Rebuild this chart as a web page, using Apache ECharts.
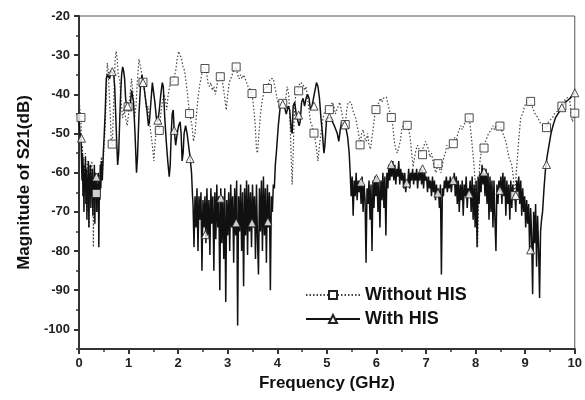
<!DOCTYPE html>
<html>
<head>
<meta charset="utf-8">
<script src="https://cdn.jsdelivr.net/npm/echarts@6/dist/echarts.min.js"></script>
<style>html,body{margin:0;padding:0;background:#fff}#c{width:585px;height:400px}</style>
</head>
<body>
<div id="c"></div>
<script>
// ---- Data (frequency GHz, magnitude dB) ----
const seriesNames = ['Without HIS', 'With HIS'];
const xTickLabels = [0, 1, 2, 3, 4, 5, 6, 7, 8, 9, 10];
const yTickLabels = [-100, -90, -80, -70, -60, -50, -40, -30, -20];
const yMinorTicks = [-105, -95, -85, -75, -65, -55, -45, -35, -25];

const withoutHIS = [
[0.00,-41],[0.02,-44],[0.04,-46],[0.05,-52],[0.06,-58],[0.07,-53],[0.08,-62],[0.09,-56],[0.10,-66],[0.11,-58],[0.12,-63],[0.13,-55],[0.14,-68],[0.15,-60],[0.16,-65],[0.17,-57],[0.18,-70],[0.19,-59],[0.20,-74],[0.21,-62],[0.22,-58],[0.23,-66],[0.24,-60],[0.25,-64],[0.26,-57],[0.27,-68],[0.28,-62],[0.29,-79],[0.30,-64],[0.31,-60],[0.32,-70],[0.33,-61],[0.34,-66],[0.35,-62],[0.36,-70],[0.37,-63],[0.38,-67],[0.39,-60],[0.40,-72],[0.41,-62],[0.42,-65],[0.43,-58],[0.44,-62],[0.45,-56],[0.47,-60],[0.49,-57],[0.51,-52],[0.53,-48],[0.55,-40],[0.57,-32],[0.59,-34],[0.61,-40],[0.63,-45],[0.65,-52],[0.67,-53],[0.69,-46],[0.71,-38],[0.73,-31],[0.75,-29],[0.77,-31],[0.79,-35],[0.82,-36],[0.85,-42],[0.88,-46],[0.91,-44],[0.94,-46],[0.97,-48],[1.00,-45],[1.03,-40],[1.06,-36],[1.09,-40],[1.12,-46],[1.15,-43],[1.18,-36],[1.21,-31],[1.24,-33],[1.27,-35],[1.30,-37],[1.33,-40],[1.36,-44],[1.39,-43],[1.42,-47],[1.45,-50],[1.48,-53],[1.51,-57],[1.53,-53],[1.56,-49],[1.59,-48],[1.62,-49],[1.65,-45],[1.68,-42],[1.71,-40],[1.74,-41],[1.77,-44],[1.80,-40],[1.83,-38],[1.86,-36],[1.89,-37],[1.92,-37],[1.95,-34],[1.98,-31],[2.01,-29],[2.04,-29.5],[2.07,-31],[2.10,-33],[2.13,-34],[2.16,-37],[2.19,-40],[2.22,-44],[2.25,-46],[2.28,-48],[2.31,-52],[2.34,-50],[2.37,-45],[2.40,-41],[2.43,-38],[2.46,-36],[2.49,-34],[2.52,-33],[2.54,-33.4],[2.57,-34],[2.60,-37],[2.63,-38],[2.66,-37],[2.69,-39],[2.72,-38],[2.75,-40],[2.78,-38],[2.81,-36],[2.85,-35.5],[2.88,-36],[2.91,-38],[2.94,-41],[2.97,-44],[3.00,-40],[3.03,-37],[3.06,-36],[3.09,-35],[3.12,-34],[3.17,-33],[3.20,-35],[3.23,-36],[3.26,-35],[3.29,-36],[3.32,-35],[3.35,-35],[3.38,-37],[3.41,-38],[3.44,-38],[3.47,-39],[3.49,-39.8],[3.52,-43],[3.55,-47],[3.58,-54],[3.60,-55],[3.63,-50],[3.66,-45],[3.69,-42],[3.72,-40],[3.75,-38],[3.78,-38],[3.80,-38.5],[3.83,-37],[3.86,-36],[3.89,-36],[3.92,-36],[3.95,-38],[3.98,-40],[4.01,-42],[4.04,-42],[4.07,-43],[4.11,-42.3],[4.14,-43],[4.17,-41],[4.20,-38],[4.23,-40],[4.26,-48],[4.28,-56],[4.30,-63],[4.32,-55],[4.34,-46],[4.37,-40],[4.40,-39.3],[4.43,-39],[4.46,-37],[4.49,-37],[4.52,-37.3],[4.55,-39],[4.58,-38],[4.61,-41],[4.64,-44],[4.67,-47],[4.70,-48],[4.74,-50],[4.77,-52],[4.80,-55],[4.82,-57],[4.85,-53],[4.88,-50],[4.91,-47],[4.94,-45],[4.97,-44],[5.00,-44],[5.05,-43.9],[5.08,-43],[5.11,-42],[5.14,-43],[5.17,-45],[5.20,-44],[5.23,-43],[5.26,-42],[5.29,-44],[5.32,-46],[5.37,-47.7],[5.40,-44],[5.43,-42],[5.46,-41.6],[5.49,-42],[5.52,-44],[5.55,-45],[5.58,-46],[5.61,-48],[5.64,-50],[5.67,-52.9],[5.70,-50],[5.73,-49],[5.76,-51],[5.79,-52],[5.82,-50],[5.85,-53],[5.88,-54],[5.91,-51],[5.94,-48],[5.97,-45],[5.99,-43.9],[6.02,-43],[6.05,-42],[6.08,-41],[6.11,-42],[6.14,-41],[6.17,-41],[6.20,-40.7],[6.23,-41],[6.26,-44],[6.30,-45.9],[6.33,-48],[6.36,-52],[6.39,-54],[6.42,-55],[6.45,-55.5],[6.48,-52],[6.51,-49],[6.54,-48],[6.57,-47],[6.60,-48],[6.62,-47.9],[6.65,-49],[6.68,-51],[6.71,-55],[6.74,-58.5],[6.77,-56],[6.80,-54],[6.83,-53],[6.86,-54],[6.90,-55],[6.93,-55.4],[6.96,-53],[6.99,-52],[7.02,-52],[7.05,-54],[7.08,-56],[7.11,-55],[7.14,-57],[7.17,-59],[7.20,-60],[7.24,-57.7],[7.27,-58],[7.30,-60],[7.33,-58],[7.36,-56],[7.39,-55],[7.42,-53],[7.45,-54],[7.48,-54],[7.51,-53],[7.55,-52.6],[7.58,-51],[7.61,-52],[7.64,-50],[7.67,-49],[7.70,-48],[7.73,-49],[7.76,-48],[7.79,-47],[7.82,-46],[7.87,-46],[7.90,-49],[7.93,-53],[7.96,-57],[7.99,-62],[8.02,-70],[8.04,-79],[8.06,-66],[8.08,-58],[8.11,-55],[8.14,-54],[8.17,-53.7],[8.20,-52],[8.23,-51],[8.26,-50],[8.29,-50.5],[8.32,-49],[8.35,-48],[8.38,-49],[8.41,-48],[8.44,-48],[8.49,-48.1],[8.52,-49],[8.55,-50],[8.58,-51],[8.61,-52],[8.64,-54],[8.67,-56],[8.70,-57],[8.73,-58],[8.76,-61],[8.79,-65.8],[8.82,-60],[8.85,-55],[8.88,-50],[8.91,-46],[8.95,-44.9],[8.99,-43],[9.03,-42],[9.07,-41],[9.11,-41.8],[9.14,-43],[9.17,-44],[9.20,-45],[9.23,-45],[9.26,-46],[9.29,-47],[9.32,-47],[9.35,-48],[9.39,-48],[9.43,-48.5],[9.47,-47],[9.51,-47],[9.55,-46],[9.59,-45],[9.63,-45],[9.67,-44],[9.71,-43],[9.74,-43],[9.78,-42],[9.82,-41],[9.86,-40.5],[9.89,-40.7],[9.92,-44],[9.95,-47],[9.98,-46],[10.0,-44.8]
];

const withHIS = [
[0.00,-46],[0.02,-50],[0.04,-51],[0.05,-56],[0.06,-62],[0.07,-55],[0.08,-66],[0.09,-58],[0.10,-70],[0.11,-60],[0.12,-64],[0.13,-56],[0.14,-68],[0.15,-59],[0.16,-72],[0.17,-61],[0.18,-66],[0.19,-57],[0.20,-74],[0.21,-60],[0.22,-63],[0.23,-58],[0.24,-69],[0.25,-61],[0.26,-65],[0.27,-59],[0.28,-71],[0.29,-62],[0.30,-67],[0.31,-58],[0.32,-73],[0.33,-60],[0.34,-66],[0.35,-61],[0.36,-70],[0.37,-63],[0.38,-68],[0.39,-60],[0.40,-79],[0.41,-62],[0.42,-67],[0.43,-58],[0.44,-64],[0.45,-57],[0.47,-62],[0.49,-55],[0.51,-50],[0.53,-44],[0.55,-36],[0.57,-35],[0.60,-35],[0.62,-36],[0.64,-34],[0.67,-34],[0.70,-35],[0.72,-38],[0.74,-45],[0.76,-52],[0.78,-58],[0.80,-55],[0.82,-47],[0.84,-40],[0.86,-35],[0.88,-33],[0.90,-34],[0.92,-36],[0.94,-41],[0.96,-43],[0.98,-43],[1.00,-43],[1.02,-43],[1.04,-42],[1.06,-39],[1.08,-39],[1.10,-42],[1.13,-50],[1.16,-60],[1.18,-56],[1.21,-45],[1.24,-38],[1.27,-35],[1.29,-37],[1.31,-38],[1.34,-41],[1.37,-44],[1.40,-48],[1.42,-47],[1.45,-42],[1.48,-37],[1.50,-37],[1.53,-42],[1.56,-46],[1.59,-47],[1.62,-44],[1.65,-40],[1.68,-37],[1.70,-38],[1.73,-46],[1.76,-52],[1.79,-57],[1.82,-61],[1.84,-58],[1.86,-50],[1.88,-45],[1.90,-44],[1.92,-49],[1.95,-53],[1.98,-50],[2.01,-48],[2.04,-47],[2.06,-50],[2.08,-57],[2.10,-55],[2.12,-50],[2.15,-48],[2.18,-50],[2.21,-53],[2.24,-56],[2.27,-60],[2.29,-66],
[2.30,-68],[2.32,-79],[2.34,-66],[2.36,-74],[2.38,-64],[2.40,-80],[2.42,-66],[2.44,-72],[2.46,-65],[2.48,-85],[2.50,-67],[2.52,-74],[2.54,-66],[2.56,-78],[2.58,-64],[2.60,-76],[2.62,-67],[2.64,-81],[2.66,-64],[2.68,-73],[2.70,-66],[2.72,-85],[2.74,-65],[2.76,-77],[2.78,-63],[2.80,-74],[2.82,-66],[2.84,-90],[2.86,-64],[2.88,-78],[2.90,-66],[2.92,-82],[2.94,-64],[2.96,-93],[2.98,-67],[3.00,-76],[3.02,-65],[3.04,-80],[3.06,-63],[3.08,-74],[3.10,-66],[3.12,-83],[3.14,-64],[3.16,-76],[3.18,-62],[3.20,-99],[3.22,-66],[3.24,-75],[3.26,-63],[3.28,-80],[3.30,-65],[3.32,-89],[3.34,-64],[3.36,-76],[3.38,-62],[3.40,-81],[3.42,-63],[3.44,-75],[3.46,-65],[3.48,-79],[3.50,-63],[3.52,-74],[3.54,-66],[3.56,-82],[3.58,-63],[3.60,-77],[3.62,-86],[3.64,-64],[3.66,-75],[3.68,-62],[3.70,-80],[3.72,-61],[3.74,-76],[3.76,-64],[3.78,-83],[3.80,-63],[3.82,-74],[3.84,-65],[3.86,-90],[3.88,-66],[3.90,-70],[3.92,-63],[3.94,-64],[3.96,-58],[3.98,-55],
[4.02,-48],[4.06,-43],[4.10,-42],[4.14,-43],[4.18,-45],[4.22,-43],[4.25,-44],[4.28,-49],[4.30,-50],[4.32,-43],[4.35,-42],[4.38,-45],[4.41,-45],[4.44,-48],[4.46,-47],[4.49,-42],[4.52,-41],[4.55,-43],[4.58,-41],[4.61,-40],[4.64,-41],[4.67,-44],[4.70,-43],[4.73,-43],[4.76,-39],[4.79,-37],[4.82,-38],[4.85,-41],[4.88,-46],[4.91,-50],[4.94,-55],[4.96,-53],[4.99,-47],[5.02,-46],[5.05,-46],[5.08,-46],[5.11,-47],[5.15,-48],[5.18,-48],[5.21,-50],[5.24,-52],[5.27,-49],[5.30,-47],[5.33,-47],[5.36,-48],[5.39,-49],[5.42,-51],[5.45,-55],[5.47,-60],
[5.49,-66],[5.51,-61],[5.53,-71],[5.55,-62],[5.57,-66],[5.59,-60],[5.61,-67],[5.63,-62],[5.65,-65],[5.67,-62],[5.69,-68],[5.71,-61],[5.73,-70],[5.75,-63],[5.77,-67],[5.79,-83],[5.81,-64],[5.83,-68],[5.85,-62],[5.87,-72],[5.89,-63],[5.91,-80],[5.93,-62],[5.95,-69],[5.97,-61],[5.99,-66],[6.01,-61],[6.03,-70],[6.05,-62],[6.07,-74],[6.09,-62],[6.11,-67],[6.13,-60],[6.15,-69],[6.17,-61],[6.19,-76],[6.21,-60],[6.23,-64],[6.25,-58],[6.27,-62],[6.29,-58],[6.31,-61],[6.33,-57],[6.35,-62],[6.37,-58],[6.39,-63],[6.41,-59],[6.43,-61],[6.45,-57],[6.47,-63],[6.49,-59],[6.51,-62],[6.53,-60],[6.55,-64],[6.57,-60],[6.59,-65],[6.61,-62],[6.63,-63],[6.65,-59],[6.67,-64],[6.69,-60],[6.71,-62],[6.73,-59],[6.75,-63],[6.77,-60],[6.79,-62],[6.81,-59],[6.83,-64],[6.85,-60],[6.87,-62],[6.89,-59],[6.91,-63],[6.93,-59],[6.95,-64],[6.97,-60],[6.99,-62],[7.01,-61],[7.03,-65],[7.05,-61],[7.07,-64],[7.09,-62],[7.11,-66],[7.13,-61],[7.15,-65],[7.17,-62],[7.19,-67],[7.21,-63],[7.23,-66],[7.25,-64],[7.27,-69],[7.29,-63],[7.31,-86],[7.33,-64],[7.35,-66],[7.37,-62],[7.39,-64],[7.41,-61],[7.43,-65],[7.45,-62],[7.47,-64],[7.49,-61],[7.51,-65],[7.53,-62],[7.55,-63],[7.57,-60],[7.59,-66],[7.61,-61],[7.63,-68],[7.65,-62],[7.67,-70],[7.69,-63],[7.71,-67],[7.73,-62],[7.75,-71],[7.77,-63],[7.79,-66],[7.81,-61],[7.83,-69],[7.85,-64],[7.87,-66],[7.89,-62],[7.91,-70],[7.93,-61],[7.95,-72],[7.97,-63],[7.99,-74],[8.01,-62],[8.03,-79],[8.05,-61],[8.07,-68],[8.09,-60],[8.11,-65],[8.13,-58],[8.15,-63],[8.17,-60],[8.19,-66],[8.21,-59],[8.23,-68],[8.25,-60],[8.27,-72],[8.29,-61],[8.31,-70],[8.33,-62],[8.35,-74],[8.37,-62],[8.39,-72],[8.41,-80],[8.43,-63],[8.45,-68],[8.47,-62],[8.49,-65],[8.51,-61],[8.53,-68],[8.55,-60],[8.57,-66],[8.59,-61],[8.61,-71],[8.63,-62],[8.65,-68],[8.67,-63],[8.69,-72],[8.71,-62],[8.73,-69],[8.75,-63],[8.77,-67],[8.79,-65],[8.81,-70],[8.83,-62],[8.85,-66],[8.87,-61],[8.89,-68],[8.91,-62],[8.93,-71],[8.95,-64],[8.97,-70],[8.99,-66],[9.01,-74],[9.03,-67],[9.05,-73],[9.07,-68],[9.09,-80],[9.11,-69],[9.13,-76],[9.15,-91],[9.17,-70],[9.19,-78],[9.21,-68],[9.23,-84],[9.25,-71],[9.27,-79],[9.29,-92],[9.31,-75],[9.33,-72],[9.35,-70],
[9.38,-64],[9.41,-59],[9.44,-56],[9.48,-53],[9.52,-50],[9.56,-48],[9.61,-46],[9.66,-45],[9.71,-44],[9.76,-43],[9.81,-42],[9.86,-41.5],[9.91,-41],[9.96,-40],[10.0,-39.5]
];

// marker positions
const withoutMarkers = [
[0.04,-45.9],[0.35,-65.3],[0.67,-52.7],[0.99,-43.2],[1.29,-36.9],[1.62,-49.2],[1.92,-36.6],[2.23,-44.9],[2.54,-33.4],[2.85,-35.5],[3.17,-33.0],[3.49,-39.8],[3.80,-38.5],[4.11,-42.3],[4.43,-39.1],[4.74,-49.9],[5.05,-43.9],[5.37,-47.7],[5.67,-52.9],[5.99,-43.9],[6.30,-45.9],[6.62,-47.9],[6.93,-55.4],[7.24,-57.7],[7.55,-52.6],[7.87,-46.0],[8.17,-53.7],[8.49,-48.1],[8.79,-65.8],[9.11,-41.8],[9.43,-48.5],[9.74,-43.0],[10.0,-44.8]
];
const withMarkers = [
[0.05,-51.2],[0.35,-61.1],[0.67,-34.2],[0.98,-43.0],[1.29,-37.0],[1.59,-46.6],[1.92,-49.2],[2.24,-56.4],[2.55,-75.8],[2.86,-66.5],[3.17,-72.8],[3.49,-72.8],[3.81,-72.5],[4.11,-42.5],[4.43,-45.3],[4.74,-43.0],[5.05,-45.9],[5.36,-47.8],[5.69,-62.4],[6.00,-61.5],[6.30,-57.9],[6.61,-62.6],[6.93,-59.0],[7.24,-65.2],[7.55,-62.0],[7.87,-65.4],[8.17,-59.8],[8.49,-64.5],[8.81,-65.8],[9.11,-79.7],[9.43,-57.9],[9.74,-43.4],[10.0,-39.6]
];

const chart = echarts.init(document.getElementById('c'), null, {renderer: 'canvas'});
const FONT = '"Liberation Sans", Arial, sans-serif';
const AX = '#333';
const markerStyle = {color: '#fff', borderColor: '#222', borderWidth: 1};

chart.setOption({
  backgroundColor: '#fff',
  animation: false,
  grid: {left: 79, right: 4, top: 16, bottom: 51, show: true, borderColor: '#555', borderWidth: 1},
  legend: {
    orient: 'vertical', left: 300, top: 281, itemGap: 6, itemWidth: 54, itemHeight: 10,
    data: seriesNames,
    textStyle: {fontFamily: FONT, fontWeight: 'bold', fontSize: 18, color: '#111'}
  },
  xAxis: {
    type: 'value', min: xTickLabels[0], max: xTickLabels[xTickLabels.length - 1], interval: 1,
    name: 'Frequency (GHz)', nameLocation: 'middle', nameGap: 25,
    nameTextStyle: {fontFamily: FONT, fontWeight: 'bold', fontSize: 17, color: '#111'},
    axisLine: {onZero: false, lineStyle: {color: AX, width: 2}},
    axisTick: {inside: false, length: 5, lineStyle: {color: AX, width: 2}},
    minorTick: {show: true, splitNumber: 2, length: 3, lineStyle: {color: AX, width: 1.5}},
    axisLabel: {margin: 8, fontFamily: FONT, fontWeight: 'bold', fontSize: 13, color: '#222'},
    splitLine: {show: false}
  },
  yAxis: [{
    type: 'value', min: -105, max: -20,
    name: 'Magnitude of S21(dB)', nameLocation: 'middle', nameGap: 46,
    nameTextStyle: {fontFamily: FONT, fontWeight: 'bold', fontSize: 17, color: '#111'},
    axisLine: {onZero: false, lineStyle: {color: AX, width: 2}},
    axisTick: {inside: false, length: 5, customValues: yTickLabels, lineStyle: {color: AX, width: 2}},
    axisLabel: {margin: 9, customValues: yTickLabels, fontFamily: FONT, fontWeight: 'bold', fontSize: 13, color: '#222'},
    splitLine: {show: false}
  }, {
    type: 'value', min: -105, max: -20, position: 'left', offset: 0,
    axisLine: {show: false},
    axisTick: {inside: false, length: 3, customValues: yMinorTicks, lineStyle: {color: AX, width: 1.5}},
    axisLabel: {show: false},
    splitLine: {show: false}
  }],
  series: [{
    name: seriesNames[0], type: 'line', data: withoutHIS, showSymbol: false,
    symbol: 'rect', itemStyle: markerStyle,
    lineStyle: {color: '#444', width: 1.2, type: [1.5, 2]}, z: 2
  }, {
    name: seriesNames[1], type: 'line', data: withHIS, showSymbol: false,
    symbol: 'triangle', itemStyle: markerStyle,
    lineStyle: {color: '#111', width: 1.5}, z: 3
  }, {
    name: 'm1', type: 'scatter', data: withoutMarkers, symbol: 'rect', symbolSize: 8,
    itemStyle: markerStyle, z: 5
  }, {
    name: 'm2', type: 'scatter', data: withMarkers, symbol: 'triangle', symbolSize: 8,
    itemStyle: markerStyle, z: 6
  }]
});
</script>
</body>
</html>
